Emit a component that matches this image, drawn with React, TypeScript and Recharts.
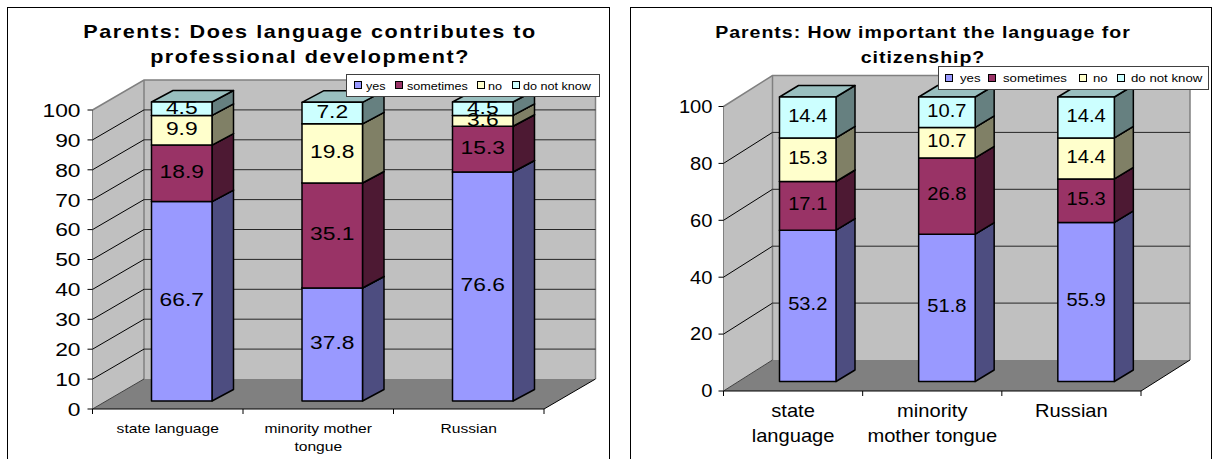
import { Bar, BarChart, CartesianGrid, LabelList, Legend, XAxis, YAxis } from 'recharts'

const FONT = '"Liberation Sans", Arial, sans-serif'

const seriesNames = ['yes', 'sometimes', 'no', 'do not know']
const seriesFills = ['#9999ff', '#993366', '#ffffcc', '#ccffff']
const seriesSides = ['#4d4d80', '#4d1933', '#808066', '#668080']
const seriesTops = ['#7373bf', '#732650', '#bfbf99', '#99bfbf']

const categories = ['state language', 'minority mother tongue', 'Russian']

// Parents: language and professional development
const professionalYes = [66.7, 37.8, 76.6]
const professionalSometimes = [18.9, 35.1, 15.3]
const professionalNo = [9.9, 19.8, 3.6]
const professionalDontKnow = [4.5, 7.2, 4.5]
const professionalTicks = [0, 10, 20, 30, 40, 50, 60, 70, 80, 90, 100]

// Parents: language and citizenship
const citizenshipYes = [53.2, 51.8, 55.9]
const citizenshipSometimes = [17.1, 26.8, 15.3]
const citizenshipNo = [15.3, 10.7, 14.4]
const citizenshipDontKnow = [14.4, 10.7, 14.4]
const citizenshipTicks = [0, 20, 40, 60, 80, 100]

type Layout = {
  frame: { x: number; y: number; w: number; h: number }
  plot: { left: number; right: number; top: number; bottom: number }
  wall: { dx: number; dy: number } // box depth
  barWidth: number
  barFront: { dx: number; dy: number } // bar front face, relative to the front plane
  barDepth: { dx: number; dy: number }
  stretch: number // horizontal stretch of all the text
  titleSize: number
  titleSpacing: number
  titleY: number[]
  titleX: number
  tickSize: number
  tickMargin: number
  catSize: number
  catLines: number[]
  catWrap: number
  labelSize: number
  legend: { x: number; y: number; w: number; h: number; size: number; marks: number[]; texts: number[] }
}

const professionalLayout: Layout = {
  frame: { x: 8, y: 8, w: 601, h: 470 },
  plot: { left: 92.5, right: 544, top: 110, bottom: 409 },
  wall: { dx: 51.5, dy: -30 },
  barWidth: 60.5,
  barFront: { dx: 14, dy: -8 },
  barDepth: { dx: 21.5, dy: -11.5 },
  stretch: 1.2,
  titleSize: 18,
  titleSpacing: 1.3,
  titleY: [38, 63],
  titleX: 310,
  tickSize: 19,
  tickMargin: 5,
  catSize: 13,
  catLines: [24, 18],
  catWrap: 16,
  labelSize: 19,
  legend: {
    x: 346,
    y: 74,
    w: 254,
    h: 23,
    size: 10.5,
    marks: [7, 48, 130, 165],
    texts: [19, 60, 141, 176],
  },
}

const citizenshipLayout: Layout = {
  frame: { x: 631, y: 8, w: 580, h: 470 },
  plot: { left: 723.5, right: 1141, top: 106.5, bottom: 391 },
  wall: { dx: 49, dy: -31 },
  barWidth: 56.5,
  barFront: { dx: 15, dy: -9.5 },
  barDepth: { dx: 19, dy: -11.5 },
  stretch: 1.15,
  titleSize: 17,
  titleSpacing: 0.85,
  titleY: [38, 63],
  titleX: 923,
  tickSize: 17.5,
  tickMargin: 4,
  catSize: 17.5,
  catLines: [26, 25],
  catWrap: 13,
  labelSize: 17.5,
  legend: {
    x: 938,
    y: 66,
    w: 271,
    h: 24,
    size: 11.5,
    marks: [6, 49, 140, 178],
    texts: [21, 64, 154, 192],
  },
}

// Breaks a label into lines of at most `max` characters, by word.
function wrap(text: string, max: number): string[] {
  const lines: string[] = []
  let current = ''
  for (const word of text.split(' ')) {
    if (current && `${current} ${word}`.length > max) {
      lines.push(current)
      current = word
    } else {
      current = current ? `${current} ${word}` : word
    }
  }
  if (current) lines.push(current)
  return lines
}

function pts(list: number[][]) {
  return list.map(p => p.join(',')).join(' ')
}

// Text stretched sideways around its anchor point.
function WideText({
  x,
  y,
  sx,
  size,
  anchor = 'middle',
  bold,
  spacing,
  fill = '#000',
  children,
}: {
  x: number
  y: number
  sx: number
  size: number
  anchor?: 'start' | 'middle' | 'end'
  bold?: boolean
  spacing?: number
  fill?: string
  children: React.ReactNode
}) {
  return (
    <text
      transform={`translate(${x} ${y}) scale(${sx} 1)`}
      textAnchor={anchor}
      fontFamily={FONT}
      fontSize={size}
      fontWeight={bold ? 700 : 400}
      letterSpacing={spacing}
      fill={fill}
    >
      {children}
    </text>
  )
}

// Side walls and floor of the box, in panel coordinates. Sits under the chart's svg.
function Box({ layout }: { layout: Layout }) {
  const { plot, wall, frame } = layout
  const l = plot.left - frame.x
  const r = plot.right - frame.x
  const t = plot.top - frame.y
  const b = plot.bottom - frame.y
  const { dx, dy } = wall
  return (
    <svg width={frame.w} height={frame.h} style={{ position: 'absolute', left: 0, top: 0 }}>
      <polygon points={pts([[l, t], [l + dx, t + dy], [l + dx, b + dy], [l, b]])} fill="#c0c0c0" />
      <polygon points={pts([[l + dx, t + dy], [r + dx, t + dy], [r + dx, b + dy], [l + dx, b + dy]])} fill="#c0c0c0" />
      <polygon points={pts([[l, b], [l + dx, b + dy], [r + dx, b + dy], [r, b]])} fill="#808080" />
      <polyline
        points={pts([[l, t], [l + dx, t + dy], [r + dx, t + dy], [r + dx, b + dy]])}
        fill="none"
        stroke="#808080"
        strokeWidth={1.5}
      />
      <line x1={l + dx} y1={t + dy} x2={l + dx} y2={b + dy} stroke="#808080" strokeWidth={1.5} />
      <line x1={l} y1={t} x2={l} y2={b} stroke="#808080" strokeWidth={1} />
      <line x1={r} y1={b} x2={r + dx} y2={b + dy} stroke="#000" strokeWidth={1} />
      <line x1={l} y1={b} x2={l + dx} y2={b + dy} stroke="#404040" strokeWidth={1} />
    </svg>
  )
}

// One grid line: along the back wall and down the left wall.
function gridLine(props: any, layout: Layout) {
  const { x1, x2, y1 } = props
  const { dx, dy } = layout.wall
  const atBottom = Math.abs(y1 - (layout.plot.bottom - layout.frame.y)) < 1
  const atTop = Math.abs(y1 - (layout.plot.top - layout.frame.y)) < 1
  if (atBottom || atTop) return <g key={props.key} />
  return (
    <g key={props.key}>
      <line x1={x1} y1={y1} x2={x1 + dx} y2={y1 + dy} stroke="#000" strokeWidth={1} />
      <line x1={x1 + dx} y1={y1 + dy} x2={x2 + dx} y2={y1 + dy} stroke="#262626" strokeWidth={1} />
    </g>
  )
}

// Stacked box segment: front, side and top faces.
function segmentShape(props: any, seriesIndex: number, layout: Layout) {
  const { x, y, width, height } = props
  const { dx, dy } = layout.barDepth
  const left = x + layout.barFront.dx
  const top = y + layout.barFront.dy
  const right = left + width
  const bottom = top + height
  const edge = { stroke: '#000', strokeWidth: 1.5, strokeLinejoin: 'round' as const }
  return (
    <g>
      <polygon
        points={pts([[right, top], [right + dx, top + dy], [right + dx, bottom + dy], [right, bottom]])}
        fill={seriesSides[seriesIndex]}
        {...edge}
      />
      <polygon
        points={pts([[left, top], [left + dx, top + dy], [right + dx, top + dy], [right, top]])}
        fill={seriesTops[seriesIndex]}
        {...edge}
      />
      <rect x={left} y={top} width={width} height={height} fill={seriesFills[seriesIndex]} {...edge} />
    </g>
  )
}

function segmentLabel(props: any, layout: Layout) {
  const box = props.viewBox ?? props
  const { x, y, width, height } = box
  const cx = x + width / 2 + layout.barFront.dx
  const cy = y + height / 2 + layout.barFront.dy - 2
  return (
    <WideText x={cx} y={cy + layout.labelSize * 0.36} sx={layout.stretch} size={layout.labelSize}>
      {props.value}
    </WideText>
  )
}

function CategoryTick(props: any) {
  const { x, payload, index, layout, band } = props as { x: number; payload: { value: string }; index: number; layout: Layout; band: number }
  const lines = wrap(payload.value, layout.catWrap)
  const axisY = layout.plot.bottom - layout.frame.y
  return (
    <g>
      <line x1={x - band / 2} y1={axisY} x2={x - band / 2} y2={axisY + 5} stroke="#000" />
      {index === categories.length - 1 && (
        <line x1={x + band / 2} y1={axisY} x2={x + band / 2} y2={axisY + 5} stroke="#000" />
      )}
      {lines.map((line, i) => (
        <WideText
          key={line}
          x={x}
          y={axisY + layout.catLines[0] + i * layout.catLines[1]}
          sx={layout.stretch}
          size={layout.catSize}
        >
          {line}
        </WideText>
      ))}
    </g>
  )
}

function ValueTick(props: any) {
  const { x, y, payload, layout } = props as { x: number; y: number; payload: { value: number }; layout: Layout }
  return (
    <WideText
      x={x - layout.tickMargin}
      y={y + layout.tickSize * 0.36}
      sx={layout.stretch}
      size={layout.tickSize}
      anchor="end"
    >
      {payload.value}
    </WideText>
  )
}

function LegendBox({ layout, payload }: { layout: Layout; payload?: any[] }) {
  const { legend, stretch } = layout
  const items = [...(payload ?? [])].sort(
    (a, b) => seriesNames.indexOf(a.value) - seriesNames.indexOf(b.value),
  )
  return (
    <div
      style={{
        position: 'relative',
        width: legend.w,
        height: legend.h,
        boxSizing: 'border-box',
        background: '#fff',
        border: '1px solid #404040',
        fontFamily: FONT,
        fontSize: legend.size,
        color: '#000',
      }}
    >
      {items.map((item, i) => (
        <div key={item.value}>
          <span
            style={{
              position: 'absolute',
              left: legend.marks[i],
              top: legend.h / 2 - 5.5,
              width: 6,
              height: 6,
              background: item.color,
              border: '1.5px solid #000',
            }}
          />
          <span
            style={{
              position: 'absolute',
              left: legend.texts[i],
              top: legend.h / 2 - legend.size * 0.62,
              lineHeight: 1.15,
              whiteSpace: 'nowrap',
              transform: `scaleX(${stretch})`,
              transformOrigin: 'left center',
            }}
          >
            {item.value}
          </span>
        </div>
      ))}
    </div>
  )
}

function StackedPanel({
  titleLines,
  ticks,
  values,
  layout,
}: {
  titleLines: string[]
  ticks: number[]
  values: number[][]
  layout: Layout
}) {
  const { frame, plot, legend } = layout
  const data = categories.map((name, i) => {
    const row: Record<string, string | number> = { name }
    seriesNames.forEach((s, si) => {
      row[s] = values[si][i]
    })
    return row
  })
  const yAxisWidth = 60
  const xAxisHeight = 20
  const band = (plot.right - plot.left) / categories.length

  return (
    <div
      style={{
        position: 'absolute',
        left: frame.x,
        top: frame.y,
        width: frame.w,
        height: frame.h,
        boxSizing: 'border-box',
        outline: '1.5px solid #000',
        background: '#fff',
      }}
    >
      <Box layout={layout} />
      <BarChart
        width={frame.w}
        height={frame.h}
        data={data}
        barSize={layout.barWidth}
        margin={{
          top: plot.top - frame.y,
          left: plot.left - frame.x - yAxisWidth,
          right: frame.x + frame.w - plot.right,
          bottom: frame.y + frame.h - plot.bottom - xAxisHeight,
        }}
      >
        <CartesianGrid vertical={false} horizontal={p => gridLine(p, layout)} />
        <XAxis
          dataKey="name"
          interval={0}
          height={xAxisHeight}
          axisLine={{ stroke: '#000', strokeWidth: 1 }}
          tickLine={false}
          tick={<CategoryTick layout={layout} band={band} />}
        />
        <YAxis
          width={yAxisWidth}
          domain={[0, 100]}
          ticks={ticks}
          interval={0}
          axisLine={false}
          tickLine={{ stroke: '#000' }}
          tickSize={5}
          tickMargin={2}
          tick={<ValueTick layout={layout} />}
        />
        <Legend
          layout="horizontal"
          verticalAlign="middle"
          align="center"
          wrapperStyle={{ left: legend.x - frame.x, top: legend.y - frame.y, width: legend.w, height: legend.h }}
          content={p => <LegendBox layout={layout} payload={(p as any).payload} />}
        />
        {seriesNames.map((s, si) => (
          <Bar
            key={s}
            dataKey={s}
            stackId="total"
            fill={seriesFills[si]}
            isAnimationActive={false}
            shape={(p: any) => segmentShape(p, si, layout)}
          >
            <LabelList dataKey={s} content={(p: any) => segmentLabel(p, layout)} />
          </Bar>
        ))}
      </BarChart>
      <svg
        width={frame.w}
        height={66}
        style={{ position: 'absolute', left: 0, top: 0, pointerEvents: 'none' }}
      >
        {titleLines.map((line, i) => (
          <WideText
            key={line}
            x={layout.titleX - frame.x}
            y={layout.titleY[i] - frame.y}
            sx={layout.stretch}
            size={layout.titleSize}
            bold
            spacing={layout.titleSpacing}
          >
            {line}
          </WideText>
        ))}
      </svg>
    </div>
  )
}

export default function App() {
  return (
    <div
      style={{
        position: 'absolute',
        left: 0,
        top: 0,
        width: 1213,
        height: 459,
        overflow: 'hidden',
        background: '#fff',
      }}
    >
      <StackedPanel
        titleLines={['Parents: Does language contributes to', 'professional development?']}
        ticks={professionalTicks}
        values={[professionalYes, professionalSometimes, professionalNo, professionalDontKnow]}
        layout={professionalLayout}
      />
      <StackedPanel
        titleLines={['Parents: How important the language for', 'citizenship?']}
        ticks={citizenshipTicks}
        values={[citizenshipYes, citizenshipSometimes, citizenshipNo, citizenshipDontKnow]}
        layout={citizenshipLayout}
      />
    </div>
  )
}
